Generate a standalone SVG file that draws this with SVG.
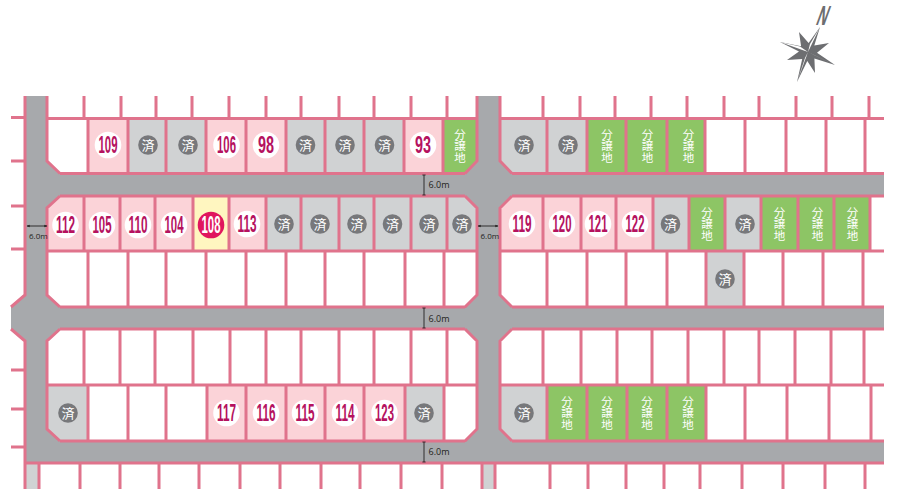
<svg xmlns="http://www.w3.org/2000/svg" width="897" height="503" viewBox="0 0 897 503">
<style>
.road{fill:#a7a9ac}
.p{fill:#fbd3d8}.s{fill:#d0d2d3}.g{fill:#8dc565}.y{fill:#fff6c0}
.c{fill:#fff}.d{fill:#77787b}.h{fill:#e0165e}
.n{font:bold 23px "Liberation Sans",sans-serif;fill:#b5125f;text-anchor:middle}
.k{font:13px "Noto Sans CJK JP",sans-serif;fill:#fff;text-anchor:middle}
.v{font:11.5px "Noto Sans CJK JP",sans-serif;fill:#fff;text-anchor:middle;writing-mode:vertical-rl}
.m{font:9px "Open Sans",sans-serif;fill:#231f20}
.ln{fill:none;stroke:#e0738c;stroke-width:3}
.dim{fill:none;stroke:#231f20;stroke-width:.9}
</style>
<defs>
<marker id="t" markerWidth="4" markerHeight="4" refX="2" refY="2" orient="auto"><path d="M2 .2V3.800" stroke="#231f20" stroke-width=".9" fill="none"/></marker>
<marker id="a" markerWidth="4" markerHeight="4" refX="3" refY="2" orient="auto-start-reverse"><path d="M0 .5L3.500 2L0 3.500Z" fill="#231f20"/></marker>
</defs>
<rect width="897" height="503" fill="#fff"/>
<g id="roads">
<path class="road" d="M26 96H47V161L60 173.500H465L477 161V96H500V161L512 173.500H884V196H512L500 208V295L512 307H884V329H512L500 341V429L512 441H884V463H25V341L11 329V307L25 295V96ZM47 208V295L60 307H465L477 295V208L465 196H60ZM47 341V429L60 441H465L477 429V341L465 329H60Z" fill-rule="evenodd"/>
<rect class="s" x="26" y="463" width="13" height="26"/>
<rect class="s" x="483" y="463" width="12" height="26"/>
</g>
<g id="lot-109"><rect class="p" x="88" y="118" width="40" height="55"/><circle class="c" cx="108" cy="145" r="13.300"/><text class="n" x="108" y="153" textLength="19" lengthAdjust="spacingAndGlyphs">109</text></g>
<g id="lot-s1"><rect class="s" x="128" y="118" width="38" height="55"/><circle class="d" cx="148" cy="145" r="9.800"/><text class="k" x="148" y="149.500">済</text></g>
<g id="lot-s2"><rect class="s" x="166" y="118" width="40" height="55"/><circle class="d" cx="188" cy="145" r="9.800"/><text class="k" x="188" y="149.500">済</text></g>
<g id="lot-106"><rect class="p" x="206" y="118" width="40" height="55"/><circle class="c" cx="226.500" cy="145" r="13.300"/><text class="n" x="226.500" y="153" textLength="19" lengthAdjust="spacingAndGlyphs">106</text></g>
<g id="lot-98"><rect class="p" x="246" y="118" width="40" height="55"/><circle class="c" cx="266" cy="145" r="13.300"/><text class="n" x="266" y="153" textLength="16" lengthAdjust="spacingAndGlyphs">98</text></g>
<g id="lot-s3"><rect class="s" x="286" y="118" width="39" height="55"/><circle class="d" cx="305.500" cy="145" r="9.800"/><text class="k" x="305.500" y="149.500">済</text></g>
<g id="lot-s4"><rect class="s" x="325" y="118" width="39" height="55"/><circle class="d" cx="345" cy="145" r="9.800"/><text class="k" x="345" y="149.500">済</text></g>
<g id="lot-s5"><rect class="s" x="364" y="118" width="40" height="55"/><circle class="d" cx="384.500" cy="145" r="9.800"/><text class="k" x="384.500" y="149.500">済</text></g>
<g id="lot-93"><rect class="p" x="404" y="118" width="39" height="55"/><circle class="c" cx="423" cy="145" r="13.300"/><text class="n" x="423" y="153" textLength="16" lengthAdjust="spacingAndGlyphs">93</text></g>
<g id="lot-b1"><path class="g" d="M443 118H477V161L465 173H443Z"/><text class="v" x="460" y="146">分譲地</text></g>
<g id="lot-s6"><path class="s" d="M500 118H547V173H512L500 161Z"/><circle class="d" cx="524" cy="145" r="9.800"/><text class="k" x="524" y="149.500">済</text></g>
<g id="lot-s7"><rect class="s" x="547" y="118" width="40" height="55"/><circle class="d" cx="568" cy="145" r="9.800"/><text class="k" x="568" y="149.500">済</text></g>
<g id="lot-b2"><rect class="g" x="587" y="118" width="39" height="55"/><text class="v" x="607" y="146">分譲地</text></g>
<g id="lot-b3"><rect class="g" x="626" y="118" width="41" height="55"/><text class="v" x="647.500" y="146">分譲地</text></g>
<g id="lot-b4"><rect class="g" x="667" y="118" width="38" height="55"/><text class="v" x="688.500" y="146">分譲地</text></g>

<g id="lot-112"><path class="p" d="M60 196H84V251H47V208Z"/><circle class="c" cx="65.500" cy="225" r="13.300"/><text class="n" x="65.500" y="233" textLength="19" lengthAdjust="spacingAndGlyphs">112</text></g>
<g id="lot-105"><rect class="p" x="84" y="196" width="36" height="55"/><circle class="c" cx="102" cy="225" r="13.300"/><text class="n" x="102" y="233" textLength="19" lengthAdjust="spacingAndGlyphs">105</text></g>
<g id="lot-110"><rect class="p" x="120" y="196" width="35" height="55"/><circle class="c" cx="138" cy="225" r="13.300"/><text class="n" x="138" y="233" textLength="19" lengthAdjust="spacingAndGlyphs">110</text></g>
<g id="lot-104"><rect class="p" x="155" y="196" width="38" height="55"/><circle class="c" cx="174" cy="225" r="13.300"/><text class="n" x="174" y="233" textLength="19" lengthAdjust="spacingAndGlyphs">104</text></g>
<g id="lot-108"><rect class="y" x="193" y="196" width="36" height="55"/><circle class="h" cx="211" cy="225" r="13.300"/><text class="n" style="fill:#fff" x="211" y="233" textLength="19" lengthAdjust="spacingAndGlyphs">108</text></g>
<g id="lot-113"><rect class="p" x="229" y="196" width="37" height="55"/><circle class="c" cx="247" cy="224" r="13.300"/><text class="n" x="247" y="232" textLength="19" lengthAdjust="spacingAndGlyphs">113</text></g>
<g id="lot-s8"><rect class="s" x="266" y="196" width="35" height="55"/><circle class="d" cx="284" cy="224" r="9.800"/><text class="k" x="284" y="228.500">済</text></g>
<g id="lot-s9"><rect class="s" x="301" y="196" width="38" height="55"/><circle class="d" cx="320" cy="224" r="9.800"/><text class="k" x="320" y="228.500">済</text></g>
<g id="lot-s10"><rect class="s" x="339" y="196" width="35" height="55"/><circle class="d" cx="357" cy="224" r="9.800"/><text class="k" x="357" y="228.500">済</text></g>
<g id="lot-s11"><rect class="s" x="374" y="196" width="37" height="55"/><circle class="d" cx="392.500" cy="224" r="9.800"/><text class="k" x="392.500" y="228.500">済</text></g>
<g id="lot-s12"><rect class="s" x="411" y="196" width="36" height="55"/><circle class="d" cx="429" cy="224" r="9.800"/><text class="k" x="429" y="228.500">済</text></g>
<g id="lot-s13"><path class="s" d="M447 196H465L477 208V251H447Z"/><circle class="d" cx="462" cy="224" r="9.800"/><text class="k" x="462" y="228.500">済</text></g>
<g id="lot-119"><path class="p" d="M512 196H543V251H500V208Z"/><circle class="c" cx="522" cy="224" r="13.300"/><text class="n" x="522" y="232" textLength="19" lengthAdjust="spacingAndGlyphs">119</text></g>
<g id="lot-120"><rect class="p" x="543" y="196" width="38" height="55"/><circle class="c" cx="562" cy="224" r="13.300"/><text class="n" x="562" y="232" textLength="19" lengthAdjust="spacingAndGlyphs">120</text></g>
<g id="lot-121"><rect class="p" x="581" y="196" width="35" height="55"/><circle class="c" cx="598" cy="224" r="13.300"/><text class="n" x="598" y="232" textLength="19" lengthAdjust="spacingAndGlyphs">121</text></g>
<g id="lot-122"><rect class="p" x="616" y="196" width="37" height="55"/><circle class="c" cx="635" cy="224" r="13.300"/><text class="n" x="635" y="232" textLength="19" lengthAdjust="spacingAndGlyphs">122</text></g>
<g id="lot-s14"><rect class="s" x="653" y="196" width="36" height="55"/><circle class="d" cx="670.500" cy="224" r="9.800"/><text class="k" x="670.500" y="228.500">済</text></g>
<g id="lot-b5"><rect class="g" x="689" y="196" width="36" height="55"/><text class="v" x="707" y="224">分譲地</text></g>
<g id="lot-s15"><rect class="s" x="725" y="196" width="36" height="55"/><circle class="d" cx="745" cy="224" r="9.800"/><text class="k" x="745" y="228.500">済</text></g>
<g id="lot-b6"><rect class="g" x="761" y="196" width="37" height="55"/><text class="v" x="779.500" y="224">分譲地</text></g>
<g id="lot-b7"><rect class="g" x="798" y="196" width="36" height="55"/><text class="v" x="817.500" y="224">分譲地</text></g>
<g id="lot-b8"><rect class="g" x="834" y="196" width="36" height="55"/><text class="v" x="852.500" y="224">分譲地</text></g>

<g id="lot-s16"><rect class="s" x="706" y="251" width="38" height="56"/><circle class="d" cx="725" cy="279" r="9.800"/><text class="k" x="725" y="283.500">済</text></g>

<g id="lot-s17"><path class="s" d="M47 385H88V441H60L47 429Z"/><circle class="d" cx="68" cy="413" r="9.800"/><text class="k" x="68" y="417.500">済</text></g>
<g id="lot-117"><rect class="p" x="207" y="385" width="39" height="56"/><circle class="c" cx="226.500" cy="413" r="13.300"/><text class="n" x="226.500" y="421" textLength="19" lengthAdjust="spacingAndGlyphs">117</text></g>
<g id="lot-116"><rect class="p" x="246" y="385" width="40" height="56"/><circle class="c" cx="266" cy="413" r="13.300"/><text class="n" x="266" y="421" textLength="19" lengthAdjust="spacingAndGlyphs">116</text></g>
<g id="lot-115"><rect class="p" x="286" y="385" width="39" height="56"/><circle class="c" cx="305" cy="413" r="13.300"/><text class="n" x="305" y="421" textLength="19" lengthAdjust="spacingAndGlyphs">115</text></g>
<g id="lot-114"><rect class="p" x="325" y="385" width="39" height="56"/><circle class="c" cx="345" cy="413" r="13.300"/><text class="n" x="345" y="421" textLength="19" lengthAdjust="spacingAndGlyphs">114</text></g>
<g id="lot-123"><rect class="p" x="364" y="385" width="41" height="56"/><circle class="c" cx="384.500" cy="413" r="13.300"/><text class="n" x="384.500" y="421" textLength="19" lengthAdjust="spacingAndGlyphs">123</text></g>
<g id="lot-s18"><rect class="s" x="405" y="385" width="39" height="56"/><circle class="d" cx="424" cy="413" r="9.800"/><text class="k" x="424" y="417.500">済</text></g>
<g id="lot-s19"><path class="s" d="M500 385H547V441H512L500 429Z"/><circle class="d" cx="524" cy="413" r="9.800"/><text class="k" x="524" y="417.500">済</text></g>
<g id="lot-b9"><rect class="g" x="547" y="385" width="40" height="56"/><text class="v" x="567" y="413">分譲地</text></g>
<g id="lot-b10"><rect class="g" x="587" y="385" width="40" height="56"/><text class="v" x="607" y="413">分譲地</text></g>
<g id="lot-b11"><rect class="g" x="627" y="385" width="40" height="56"/><text class="v" x="647" y="413">分譲地</text></g>
<g id="lot-b12"><rect class="g" x="667" y="385" width="39" height="56"/><text class="v" x="688" y="413">分譲地</text></g>

<g id="lot-lines">
<path class="ln" d="M47 118.500H477M500 118.500H884M60 173.500H465M512 173.500H884M60 196H465M512 196H884M47 251H477M500 251H884M60 307H465M512 307H884M60 329H465M512 329H884M47 385H477M500 385H884M60 441H465M512 441H884M25 463H884
M47 96V161L60 173.500M60 196L47 208V295L60 307M60 329L47 341V429L60 441
M477 96V161L465 173.500M465 196L477 208V295L465 307M465 329L477 341V429L465 441
M500 96V161L512 173.500M512 196L500 208V295L512 307M512 329L500 341V429L512 441
M25 96V295L11 307M11 329L25 341V463
M11 117.500H25M11 161H25M11 206H25M11 249H25M11 370H25M11 409H25M11 447H25
M84 96V118M121 96V118M156 96V118M192 96V118M229 96V118M266 96V118M301 96V118M339 96V118M374 96V118M411 96V118M447 96V118M543 96V118M580 96V118M615 96V118M651 96V118M687 96V118M724 96V118M759 96V118M796 96V118M832 96V118M869 96V118
M88 118V173M128 118V173M166 118V173M206 118V173M246 118V173M286 118V173M325 118V173M364 118V173M404 118V173M443 118V173M547 118V173M587 118V173M626 118V173M667 118V173M705 118V173M745 118V173M786 118V173M826 118V173M865 118V173
M84 196V251M120 196V251M155 196V251M193 196V251M229 196V251M266 196V251M301 196V251M339 196V251M374 196V251M411 196V251M447 196V251M543 196V251M581 196V251M616 196V251M653 196V251M689 196V251M725 196V251M761 196V251M798 196V251M834 196V251M870 196V251
M88 251V307M128 251V307M166 251V307M206 251V307M246 251V307M286 251V307M325 251V307M364 251V307M405 251V307M444 251V307M547 251V307M587 251V307M626 251V307M667 251V307M706 251V307M744 251V307M783 251V307M823 251V307M863 251V307
M84 329V385M120 329V385M155 329V385M193 329V385M230 329V385M266 329V385M301 329V385M339 329V385M374 329V385M411 329V385M447 329V385M543 329V385M581 329V385M617 329V385M652 329V385M688 329V385M724 329V385M759 329V385M795 329V385M831 329V385M864 329V385
M88 385V441M128 385V441M166 385V441M207 385V441M246 385V441M286 385V441M325 385V441M364 385V441M405 385V441M444 385V441M547 385V441M587 385V441M627 385V441M667 385V441M706 385V441M745 385V441M787 385V441M829 385V441M871 385V441
M25 463V489M39 463V489M80 463V489M120 463V489M159 463V489M199 463V489M240 463V489M280 463V489M321 463V489M360 463V489M401 463V489M442 463V489M482 463V489M495 463V489M550 463V489M588 463V489M626 463V489M664 463V489M700 463V489M742 463V489M783 463V489M825 463V489M865 463V489"/>
</g>

<g id="connectors">
<path class="dim" d="M424 175V195" marker-start="url(#t)" marker-end="url(#t)"/>
<path class="dim" d="M424 308V328" marker-start="url(#t)" marker-end="url(#t)"/>
<path class="dim" d="M424 442V462" marker-start="url(#t)" marker-end="url(#t)"/>
<path class="dim" d="M27 226H47" marker-start="url(#a)" marker-end="url(#a)"/>
<path class="dim" d="M478 226H498" marker-start="url(#a)" marker-end="url(#a)"/>
</g>
<g id="dimension-labels">
<text class="m" x="428.500" y="188">6.0m</text>
<text class="m" x="428.500" y="322">6.0m</text>
<text class="m" x="428.500" y="455">6.0m</text>
<text class="m" style="font-size:8px" x="29" y="238.500">6.0m</text>
<text class="m" style="font-size:8px" x="480.500" y="238.500">6.0m</text>
</g>

<g id="compass">
<polygon fill="#6d6e71" points="820,27 814.300,45.500 829,43 817,52.700 835,65 814.400,58.400 815,73 807.300,61 797,82 802.200,58.900 787,60 799,51.600 780,42 801.100,46.200 799,32 808.600,43"/>
<polygon fill="#fff" points="808,52 820,27 810,44"/>
<polygon fill="#fff" points="808,52 780,42 800,46.500"/>
<polygon fill="#fff" points="808,52 835,65 814,55"/>
<polygon fill="#fff" points="808,52 797,82 805,58"/>
<text transform="translate(815 25) skewX(-20) scale(.65 1.250)" font-family="Liberation Sans, sans-serif" font-size="22" font-weight="bold" fill="#6d6e71">N</text>
</g>
</svg>
